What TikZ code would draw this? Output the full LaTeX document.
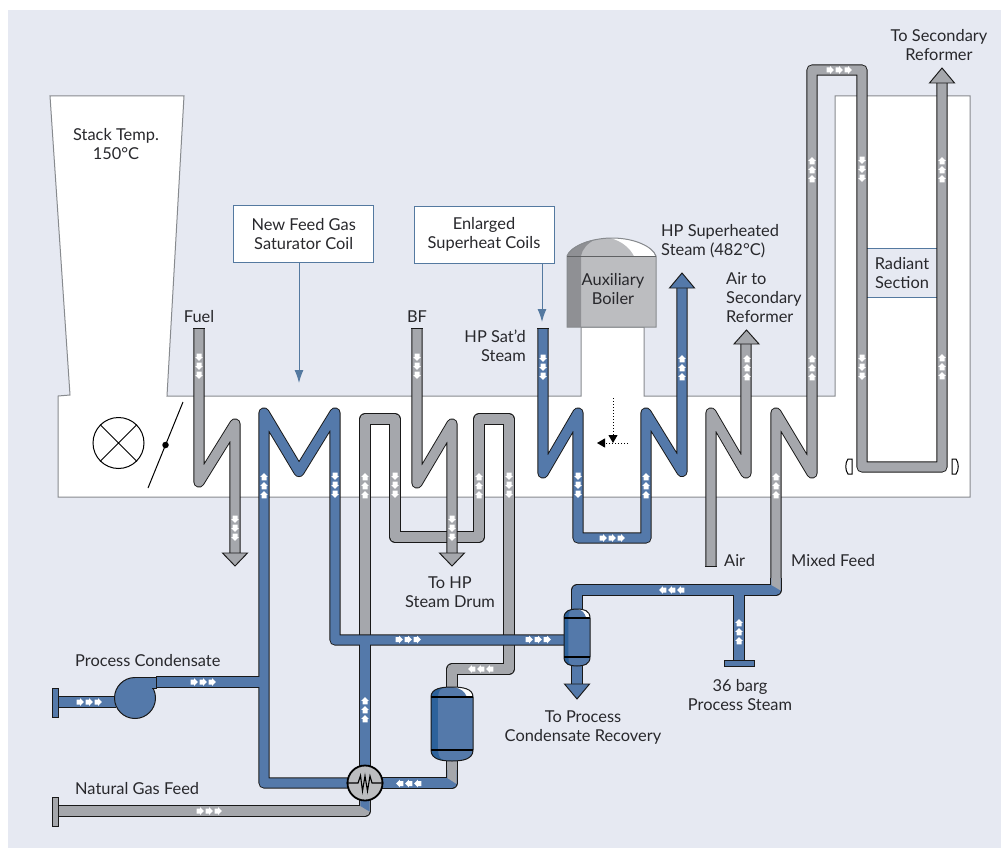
\documentclass[tikz,border=0pt]{standalone}
\usepackage{fontspec}
\setmainfont{Lato}
\usetikzlibrary{arrows.meta}
\definecolor{panel}{RGB}{230,233,242}
\definecolor{pipeblue}{RGB}{84,121,170}
\definecolor{pipegrey}{RGB}{165,167,172}
\definecolor{darkblue}{RGB}{45,98,155}
\definecolor{edgeblue}{RGB}{84,121,160}
\definecolor{wallgrey}{RGB}{135,138,142}
\definecolor{inktext}{RGB}{40,40,44}
\definecolor{boilergrey}{RGB}{188,189,192}
\definecolor{boilerdark}{RGB}{143,144,148}
\tikzset{
  pipeline/.style={line join=round,line width=0.95pt,double distance=9.3pt,draw=black!90},
  bluepipe/.style={pipeline,double=pipeblue},
  greypipe/.style={pipeline,double=pipegrey},
  lbl/.style={font=\fontsize{16.4}{19}\selectfont,text=inktext,inner sep=0pt,align=center},
  lbll/.style={lbl,align=left,anchor=west},
  lblr/.style={lbl,align=right,anchor=east},
  callout/.style={lbl,draw=edgeblue,line width=1pt,fill=white,minimum width=140pt,minimum height=57pt},
  calloutarrow/.style={edgeblue,line width=1pt,-{Latex[length=13pt,width=9pt]}},
  dotarrow/.style={black,line width=1pt,dotted,-{Triangle[length=8pt,width=9pt,sep=0pt]}},
  wall/.style={draw=wallgrey,line width=1pt,fill=white},
  capline/.style={black!90,line width=0.9pt}
}
\newcommand{\flowmarks}[4]{% x y dx dy
  \foreach \o in {-9,0,9}{
    \fill[white]
      ({#1+(\o+3.9)*#3},{#2+(\o+3.9)*#4})
      -- ({#1+(\o+0.2)*#3-3.8*#4},{#2+(\o+0.2)*#4+3.8*#3})
      -- ({#1+(\o+0.2)*#3-2.5*#4},{#2+(\o+0.2)*#4+2.5*#3})
      -- ({#1+(\o-3.4)*#3-2.5*#4},{#2+(\o-3.4)*#4+2.5*#3})
      -- ({#1+(\o-3.4)*#3+2.5*#4},{#2+(\o-3.4)*#4-2.5*#3})
      -- ({#1+(\o+0.2)*#3+2.5*#4},{#2+(\o+0.2)*#4-2.5*#3})
      -- ({#1+(\o+0.2)*#3+3.8*#4},{#2+(\o+0.2)*#4-3.8*#3})
      -- cycle;
  }}
\newcommand{\pipehead}[4]{% x base tip colour
  \draw[black!90,line width=0.95pt,fill=#4,line join=miter]
    ({#1-12.5},#2) -- ({#1+12.5},#2) -- (#1,#3) -- cycle;}
\newcommand{\vessel}[8]{% cx halfw top cyltop cylbot bottom dark fillcolour
  \fill[#8] ({#1-#2},#4) .. controls ({#1-#2},{#3+0.15*(#4-#3)}) and ({#1-0.5*#2},#3) .. (#1,#3)
     .. controls ({#1+0.5*#2},#3) and ({#1+#2},{#3+0.15*(#4-#3)}) .. ({#1+#2},#4)
     -- ({#1+#2},#5) .. controls ({#1+#2},{#6-0.15*(#6-#5)}) and ({#1+0.5*#2},#6) .. (#1,#6)
     .. controls ({#1-0.5*#2},#6) and ({#1-#2},{#6-0.15*(#6-#5)}) .. ({#1-#2},#5) -- cycle;
  \fill[#7] ({#1-#2},#4) .. controls ({#1-#2},{#3+0.3*(#4-#3)}) and ({#1-0.8*#2},{#3+0.25*(#4-#3)}) .. ({#1-0.35*#2},{#3+0.02*(#4-#3)})
     .. controls ({#1-0.62*#2},{#3+0.3*(#4-#3)}) .. ({#1-0.67*#2},#4) -- ({#1-0.67*#2},#5)
     .. controls ({#1-0.62*#2},{#6-0.3*(#6-#5)}) .. ({#1-0.35*#2},{#6-0.02*(#6-#5)})
     .. controls ({#1-0.8*#2},{#6-0.25*(#6-#5)}) and ({#1-#2},{#6-0.3*(#6-#5)}) .. ({#1-#2},#5) -- cycle;
  \fill[white] ({#1+0.05*#2},#3) .. controls ({#1+0.5*#2},#3) and ({#1+#2},{#3+0.15*(#4-#3)}) .. ({#1+0.98*#2},#4)
     -- ({#1+0.72*#2},#4) .. controls ({#1+0.6*#2},{#3+0.4*(#4-#3)}) and ({#1+0.4*#2},{#3+0.1*(#4-#3)}) .. ({#1+0.05*#2},#3) -- cycle;
  \draw[black!90,line width=1pt] ({#1-#2},#4) .. controls ({#1-#2},{#3+0.15*(#4-#3)}) and ({#1-0.5*#2},#3) .. (#1,#3)
     .. controls ({#1+0.5*#2},#3) and ({#1+#2},{#3+0.15*(#4-#3)}) .. ({#1+#2},#4)
     -- ({#1+#2},#5) .. controls ({#1+#2},{#6-0.15*(#6-#5)}) and ({#1+0.5*#2},#6) .. (#1,#6)
     .. controls ({#1-0.5*#2},#6) and ({#1-#2},{#6-0.15*(#6-#5)}) .. ({#1-#2},#5) -- cycle;
  \draw[black,line width=1.2pt] ({#1-#2},#4) -- ({#1+#2},#4) ({#1-#2},#5) -- ({#1+#2},#5);}
\begin{document}
\begin{tikzpicture}[x=1pt,y=-1pt]
\useasboundingbox (0,0) rectangle (1001,848);
\fill[white] (0,0) rectangle (1001,848);
\fill[panel] (8,10) rectangle (1001,848);
% furnace outline
\draw[wall] (50,96) -- (184,96) -- (167,396) -- (581,396) -- (581,327) -- (644,327) -- (644,396)
  -- (835,396) -- (835,96) -- (970,96) -- (970,497) -- (58,497) -- (58,396) -- (70,395) -- cycle;
% radiant section band
\fill[panel] (867,248) rectangle (937,297);
\draw[edgeblue,line width=1pt] (867,248) -- (937,248) (867,297) -- (937,297);
% fan and damper
\node[circle,draw=black,line width=1pt,minimum size=51pt,inner sep=0pt] (fan) at (118.5,443) {};
\draw[black,line width=1pt] (fan.45) -- (fan.225) (fan.135) -- (fan.315);
\coordinate (damperA) at (183,402);
\coordinate (damperB) at (148,488);
\draw[black,line width=1pt] (damperA) -- (damperB);
\node[circle,fill=black,minimum size=6.5pt,inner sep=0pt] (damperpin) at (165.5,445) {};
% callouts
\node[callout] (feedbox) at (303.7,234) {New Feed Gas\\Saturator Coil};
\node[callout] (heatbox) at (484,234.5) {Enlarged\\Superheat Coils};
\coordinate (feedtip) at (299,383);
\coordinate (heattip) at (542,322);
\draw[calloutarrow] (feedbox.south -| feedtip) -- (feedtip);
\draw[calloutarrow] (heatbox.south -| heattip) -- (heattip);
% auxiliary boiler
\fill[boilergrey] (567,256) .. controls (570,247) and (590,238) .. (612,238) .. controls (635,238) and (653,247) .. (656,256) -- (656,327) -- (567,327) -- cycle;
\fill[boilerdark] (567,256) .. controls (570,247) and (585,241) .. (595,239.5) .. controls (588,243) and (582,249) .. (581,256) -- (581,327) -- (567,327) -- cycle;
\fill[white] (610,238) .. controls (635,238) and (653,247) .. (655,256) -- (634,256) .. controls (630,248) and (622,241) .. (610,238) -- cycle;
\draw[wallgrey,line width=1pt] (567,256) .. controls (570,247) and (590,238) .. (612,238) .. controls (635,238) and (653,247) .. (656,256) -- (656,327) -- (567,327) -- cycle;
\draw[wallgrey!70!black,line width=1pt] (567,256) -- (656,256);
% named connection points
\coordinate (hx) at (365,783);
\coordinate (vesselW) at (565,640);
\coordinate (vesselN) at (577,612);
\coordinate (vesselS) at (577,664);
\coordinate (tankN) at (452,690);
\coordinate (tankS) at (452,760);
\coordinate (fuelin) at (199,328);
\coordinate (bfin) at (417,328);
\coordinate (satin) at (543,328);
\coordinate (airin) at (711,566);
\coordinate (pumpout) at (156,682);
\coordinate (pumpin) at (116,702);
\coordinate (tee) at (259,682);
\coordinate (condcap) at (58,702);
\coordinate (gascap) at (58,811);
\coordinate (steamcap) at (739,660);
% fuel coil
\draw[greypipe] (fuelin) -- (199,482) -- (235,424) -- (235,553);
\pipehead{235}{553}{566}{pipegrey}
% grey serpentine
\draw[greypipe] (365,640) -- (365,419) -- (395,419) -- (395,537) -- (479,537) -- (479,419) -- (509,419) -- (509,669) -- (452,669) -- (tankN);
% BF coil
\draw[greypipe] (bfin) -- (417,483) -- (452,424) -- (452,553);
\pipehead{452}{553}{566}{pipegrey}
% natural gas, then blue riser through the exchanger
\draw[greypipe] (gascap) -- (365,811) -- (365,798);
\draw[bluepipe] (365,798) -- (365,640);
\fill[pipeblue] (360.3,798) -- (369.7,798) -- (369.7,811.6) -- (360.3,806) -- cycle;
% blue M coil
\draw[bluepipe] (hx) -- (264,783) -- (264,413) -- (299,471.5) -- (335,413) -- (335,640) -- (vesselW);
\fill[pipeblue] (360.3,640) rectangle (369.7,647);
% process condensate
\draw[bluepipe] (pumpout) -- (tee);
\fill[pipeblue] (257,677.3) rectangle (265,686.7);
\draw[bluepipe] (condcap) -- (pumpin);
\draw[black!90,line width=0.95pt,fill=pipeblue] (52,688) rectangle (58,717);
\draw[black!90,line width=0.95pt,fill=pipegrey] (52,797) rectangle (58,826);
% HP steam coil
\draw[bluepipe] (satin) -- (543,473) -- (578,413) -- (578,538) -- (646,538) -- (646,413) -- (682,471.5) -- (682,288);
\pipehead{682}{288}{273}{pipeblue}
% air coil
\draw[greypipe] (airin) -- (711,413) -- (746,473) -- (746,344);
\pipehead{746.5}{344}{330}{pipegrey}
% mixed feed and radiant tubes
\draw[bluepipe] (vesselN) -- (577,590) -- (776,590) -- (776,578);
\draw[greypipe] (776,578) -- (776,413) -- (812,473) -- (812,70) -- (862,70) -- (862,467) -- (942,467) -- (942,83);
\fill[pipegrey] (771.3,578) -- (780.7,578) -- (780.7,590.5) -- (771.3,585) -- cycle;
\pipehead{942}{83}{68}{pipegrey}
% process steam branch
\draw[bluepipe] (739,596) -- (steamcap);
\fill[pipeblue] (734.3,593) rectangle (743.7,598);
\draw[black!90,line width=0.95pt,fill=pipeblue] (724,660) rectangle (754,666);
% open pipe ends
\draw[capline] ([xshift=-5.6pt]fuelin) -- ([xshift=5.6pt]fuelin);
\draw[capline] ([xshift=-5.6pt]bfin) -- ([xshift=5.6pt]bfin);
\draw[capline] ([xshift=-5.6pt]satin) -- ([xshift=5.6pt]satin);
\draw[capline] ([xshift=-5.6pt]airin) -- ([xshift=5.6pt]airin);
% drain to recovery
\draw[bluepipe] (vesselS) -- (577,685);
\pipehead{577}{684}{699}{pipeblue}
% exchanger to tank
\draw[bluepipe] (hx) -- (452,783) -- (452,770);
\draw[greypipe] (452,770) -- (tankS);
\fill[pipegrey] (447.3,770) -- (456.7,770) -- (456.7,784) -- (447.3,778) -- cycle;
% vessels
\vessel{577}{13}{609}{618}{657}{666}{darkblue}{pipeblue}
\vessel{452}{21}{687}{697}{750}{761}{darkblue}{pipeblue}
% pump
\node[circle,draw=black!90,fill=pipeblue,line width=1pt,minimum size=41pt,inner sep=0pt] (pump) at (135,698) {};
\fill[pipeblue] (135,677) rectangle (156,688);
\draw[black!90,line width=0.95pt] (pump.north) -- (156,677) -- (156,688) -- (151.5,688);
% heat exchanger
\node[circle,draw=black,fill=boilergrey,line width=1.8pt,minimum size=35pt,inner sep=0pt] (hxunit) at (hx) {};
\draw[black,line width=1.1pt,line join=miter] (hxunit.west) -- (358,783) -- (360.5,775.5) -- (362.5,791) -- (365,776) -- (367.5,791) -- (370,776) -- (372,783) -- (hxunit.east);
% burner end plates
\draw[black,line width=1pt,fill=white] (852,459) -- (848,459) .. controls (845,463) and (845,470) .. (848,474) -- (852,474) -- cycle;
\draw[black,line width=1pt,fill=white] (952,459) -- (956,459) .. controls (959,463) and (959,470) .. (956,474) -- (952,474) -- cycle;
% dotted flue arrows
\coordinate (flueTop) at (613,398);
\coordinate (flueMid) at (613,443);
\coordinate (flueRight) at (628,443);
\coordinate (flueLeft) at (597,443);
\draw[dotarrow] (flueTop) -- (flueMid);
\draw[dotarrow] (flueRight) -- (flueLeft);
% flow marks
\flowmarks{199}{366}{0}{1}
\flowmarks{235}{528}{0}{1}
\flowmarks{264}{486}{0}{-1}
\flowmarks{335}{485}{0}{1}
\flowmarks{365}{486}{0}{-1}
\flowmarks{395}{485}{0}{1}
\flowmarks{479}{486}{0}{-1}
\flowmarks{509}{485}{0}{1}
\flowmarks{417}{366}{0}{1}
\flowmarks{452}{528}{0}{1}
\flowmarks{543}{367}{0}{1}
\flowmarks{578}{485}{0}{1}
\flowmarks{646}{486}{0}{-1}
\flowmarks{612}{538}{1}{0}
\flowmarks{682}{368}{0}{-1}
\flowmarks{747}{368}{0}{-1}
\flowmarks{812}{368}{0}{-1}
\flowmarks{812}{170}{0}{-1}
\flowmarks{839}{70}{1}{0}
\flowmarks{862}{169}{0}{1}
\flowmarks{862}{367}{0}{1}
\flowmarks{942}{170}{0}{-1}
\flowmarks{942}{367}{0}{-1}
\flowmarks{776}{486}{0}{-1}
\flowmarks{672}{590}{-1}{0}
\flowmarks{739}{632}{0}{-1}
\flowmarks{408}{639.5}{1}{0}
\flowmarks{538}{639.5}{1}{0}
\flowmarks{365}{710}{0}{-1}
\flowmarks{481}{669}{-1}{0}
\flowmarks{409}{783.5}{-1}{0}
\flowmarks{203}{682}{1}{0}
\flowmarks{89}{702}{1}{0}
\flowmarks{209}{811}{1}{0}
% labels
\node[lbl] (stacktext) at (116,144.5) {Stack Temp.\\150°C};
\node[lbl] (fueltext) at (199,317) {Fuel};
\node[lbl] (bftext) at (417,317) {BF};
\node[lblr] (sattext) at (526,346) {HP Sat'd\\Steam};
\node[lbl] (auxtext) at (613,289.5) {Auxiliary\\Boiler};
\node[lbll] (hptext) at (661,241) {HP Superheated\\Steam (482°C)};
\node[lbll] (airtotext) at (726,298) {Air to\\Secondary\\Reformer};
\node[lbl] (reformertext) at (939,45.5) {To Secondary\\Reformer};
\node[lbl] (radianttext) at (902,273.5) {Radiant\\Section};
\node[lbll] (airtext) at (724,561) {Air};
\node[lbll] (mixedtext) at (791,561) {Mixed Feed};
\node[lbl] (drumtext) at (450,592.5) {To HP\\Steam Drum};
\node[lbl] (bargtext) at (740,695) {36 barg\\Process Steam};
\node[lbl] (recoverytext) at (583,728) {To Process\\Condensate Recovery};
\node[lbll] (condtext) at (75,661) {Process Condensate};
\node[lbll] (gastext) at (75,789) {Natural Gas Feed};
\end{tikzpicture}
\end{document}
